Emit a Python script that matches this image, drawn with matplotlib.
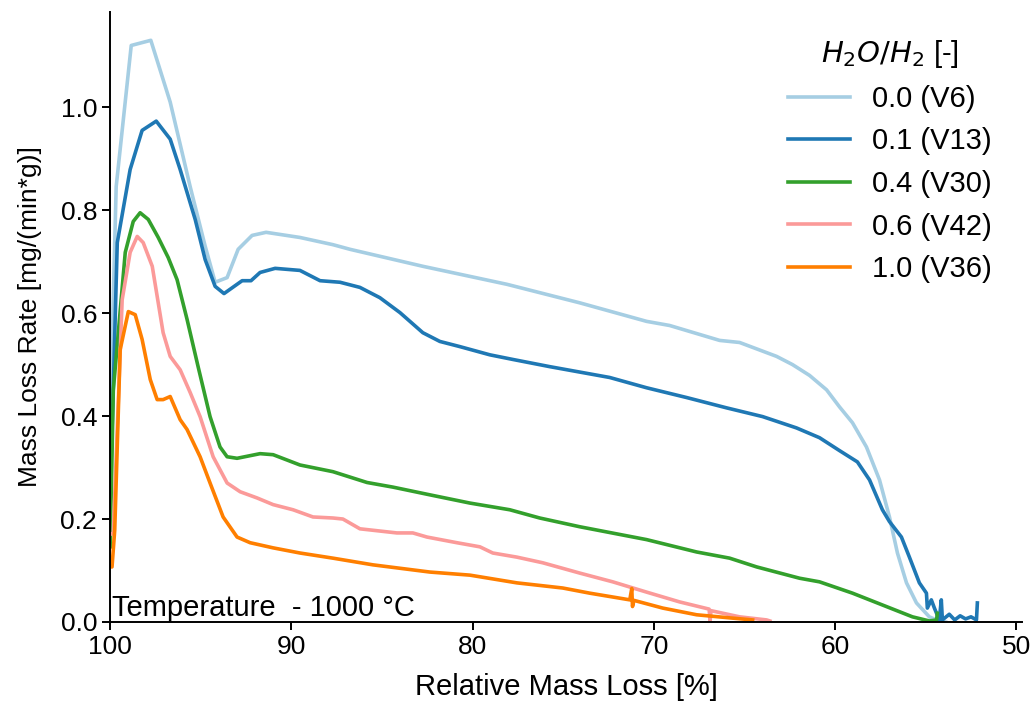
import numpy as np
import matplotlib
matplotlib.use("Agg")
import matplotlib.pyplot as plt

# ──────────────────────────────────────────
# Data
# ──────────────────────────────────────────

labels = ["0.0 (V6)", "0.1 (V13)", "0.4 (V30)", "0.6 (V42)", "1.0 (V36)"]
colors = ["#a6cee3", "#1f78b4", "#33a02c", "#fb9a99", "#ff7f00"]

x_v6 = [100.0, 99.85, 99.67, 98.84, 97.76, 96.69, 95.59, 94.76, 94.21, 93.55,
        92.94, 92.17, 91.4, 89.53, 87.71, 86.77, 82.75, 78.11, 74.09, 70.40,
        69.13, 66.37, 65.27, 63.23, 62.35, 61.41, 60.47, 59.76, 59.04, 58.27,
        57.55, 57.0, 56.56, 56.06, 55.51, 54.80, 54.41, 53.9]
y_v6 = [0.30, 0.60, 0.846, 1.12, 1.13, 1.01, 0.846, 0.73, 0.66, 0.669,
        0.724, 0.751, 0.757, 0.747, 0.733, 0.724, 0.691, 0.656, 0.620, 0.584,
        0.576, 0.547, 0.543, 0.516, 0.500, 0.479, 0.451, 0.418, 0.387, 0.340,
        0.276, 0.204, 0.134, 0.076, 0.037, 0.010, 0.004, 0.0]

x_v13 = [100.0, 99.85, 99.61, 98.90, 98.24, 97.46, 96.69, 96.14, 95.31, 94.76,
         94.21, 93.72, 92.72, 92.23, 91.73, 90.90, 89.53, 88.42, 87.32, 86.22,
         85.12, 84.01, 82.75, 81.81, 80.71, 79.05, 77.78, 75.74, 73.54, 72.44,
         70.40, 68.19, 65.99, 64.0, 62.13, 60.86, 59.76, 58.77, 58.10, 57.39,
         57.00, 56.34, 55.90, 55.35, 54.96, 54.91, 54.69, 54.52, 54.25, 54.14,
         54.08, 53.7, 53.4, 53.1, 52.8, 52.5, 52.2, 52.15]
y_v13 = [0.25, 0.43, 0.737, 0.879, 0.955, 0.973, 0.938, 0.879, 0.782, 0.704,
         0.652, 0.638, 0.663, 0.663, 0.679, 0.687, 0.683, 0.663, 0.660, 0.650,
         0.630, 0.601, 0.562, 0.545, 0.535, 0.519, 0.510, 0.496, 0.482, 0.475,
         0.455, 0.436, 0.416, 0.399, 0.377, 0.358, 0.333, 0.311, 0.276, 0.218,
         0.195, 0.165, 0.126, 0.076, 0.056, 0.027, 0.043, 0.027, 0.004, 0.043,
         0.004, 0.015, 0.004, 0.012, 0.006, 0.010, 0.004, 0.037]

x_v30 = [100.0, 99.83, 99.17, 98.73, 98.35, 97.90, 97.35, 96.80, 96.31, 95.76,
         95.15, 94.49, 93.94, 93.55, 93.0, 91.73, 91.01, 89.53, 87.71, 85.83,
         84.40, 82.36, 80.15, 77.95, 76.30, 74.09, 70.40, 67.64, 65.82, 64.33,
         61.96, 60.86, 59.04, 57.17, 55.73, 54.80, 54.40, 54.36]
y_v30 = [0.146, 0.45, 0.718, 0.778, 0.795, 0.782, 0.747, 0.708, 0.665, 0.588,
         0.496, 0.399, 0.340, 0.321, 0.318, 0.327, 0.325, 0.305, 0.292, 0.271,
         0.262, 0.247, 0.231, 0.218, 0.202, 0.185, 0.160, 0.136, 0.124, 0.107,
         0.085, 0.078, 0.056, 0.030, 0.010, 0.002, 0.004, 0.017]

x_v42 = [100.0, 99.83, 99.34, 98.90, 98.51, 98.18, 97.68, 97.08, 96.69, 96.14,
         95.59, 95.04, 94.32, 93.55, 92.83, 91.90, 91.01, 89.91, 88.81, 87.71,
         87.16, 86.22, 84.18, 83.30, 82.52, 80.87, 79.60, 78.89, 77.56, 76.13,
         74.09, 72.27, 70.40, 68.58, 66.95, 66.90, 66.85, 65.27, 63.78, 63.6]
y_v42 = [0.17, 0.173, 0.626, 0.718, 0.749, 0.737, 0.691, 0.562, 0.516, 0.490,
         0.446, 0.399, 0.321, 0.270, 0.253, 0.241, 0.228, 0.218, 0.204, 0.202,
         0.200, 0.181, 0.173, 0.173, 0.165, 0.154, 0.146, 0.134, 0.126, 0.115,
         0.095, 0.078, 0.058, 0.039, 0.025, 0.0, 0.022, 0.010, 0.004, 0.002]

x_v36 = [100.0, 99.9, 99.75, 99.45, 99.0, 98.62, 98.24, 97.79, 97.41, 97.08,
         96.69, 96.14, 95.76, 95.04, 94.49, 93.77, 93.0, 92.28, 91.01, 89.53,
         87.71, 85.50, 82.36, 80.15, 77.56, 75.03, 73.54, 71.33, 71.22, 71.18,
         71.1, 69.51, 67.64, 65.82, 64.55]
y_v36 = [0.107, 0.107, 0.179, 0.529, 0.603, 0.597, 0.549, 0.471, 0.432, 0.432,
         0.438, 0.393, 0.374, 0.321, 0.270, 0.204, 0.165, 0.154, 0.144, 0.134,
         0.124, 0.111, 0.097, 0.091, 0.076, 0.066, 0.056, 0.043, 0.065, 0.030,
         0.042, 0.027, 0.014, 0.008, 0.004]

series_x = [x_v6, x_v13, x_v30, x_v42, x_v36]
series_y = [y_v6, y_v13, y_v30, y_v42, y_v36]

# ──────────────────────────────────────────
# Plot
# ──────────────────────────────────────────

plt.rcParams["font.family"] = ["Liberation Sans", "DejaVu Sans"]
plt.rcParams["font.size"] = 19

fig, ax = plt.subplots(figsize=(10.3, 7.06), dpi=100)
fig.subplots_adjust(left=0.107, right=0.992, bottom=0.119, top=0.983)

for xs, ys, lab, col in zip(series_x, series_y, labels, colors):
    ax.plot(xs, ys, color=col, lw=2.6, label=lab)

ax.set_xlim(100, 49.7)
ax.set_ylim(0, 1.185)
ax.set_xticks([100, 90, 80, 70, 60, 50])
ax.set_yticks([0.0, 0.2, 0.4, 0.6, 0.8, 1.0])
ax.set_yticklabels(["0.0", "0.2", "0.4", "0.6", "0.8", "1.0"])

ax.spines["top"].set_visible(False)
ax.spines["right"].set_visible(False)
for s in ["left", "bottom"]:
    ax.spines[s].set_linewidth(1.4)
ax.tick_params(width=1.4, length=6, labelsize=19)

ax.set_xlabel("Relative Mass Loss [%]", fontsize=21, labelpad=10)
ax.set_ylabel("Mass Loss Rate [mg/(min*g)]", fontsize=19, labelpad=13)

ax.text(0.002, 0.0, "Temperature  - 1000 °C", transform=ax.transAxes,
        ha="left", va="bottom", fontsize=21)

leg = ax.legend(title="$H_2O/H_2$ [-]", loc="upper right", frameon=False,
                fontsize=21, title_fontsize=21, handlelength=2.15,
                handletextpad=0.75, bbox_to_anchor=(0.996, 1.0))

plt.savefig("out.png", dpi=100)
